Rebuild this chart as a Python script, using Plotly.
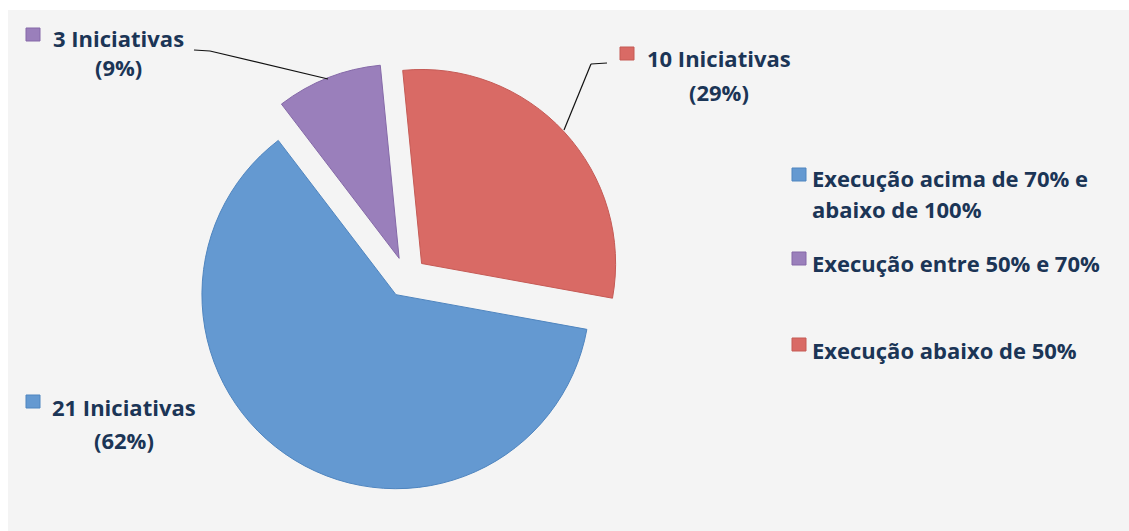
import plotly.graph_objects as go

W, H = 1129, 531

# ---- data ----
labels = ["Execução acima de 70% e abaixo de 100%", "Execução entre 50% e 70%", "Execução abaixo de 50%"]
legend_lines = [["Execução acima de 70% e", "abaixo de 100%"], ["Execução entre 50% e 70%"], ["Execução abaixo de 50%"]]
values = [21, 3, 10]
data_labels = [["21 Iniciativas", "(62%)"], ["3 Iniciativas", "(9%)"], ["10 Iniciativas", "(29%)"]]
colors = ["#6499d1", "#9a7fbb", "#d96a65"]
edge_colors = ["#4f85bf", "#8569a8", "#c55a55"]

TXT = "#1b3556"
FONT = "Open Sans"
FS = 22

def px(x):
    return x / W

def py(y):
    return 1 - y / H

fig = go.Figure()
fig.add_trace(go.Pie(
    labels=labels, values=values, sort=False, direction="clockwise", rotation=100.3,
    pull=[0.105, 0.105, 0.105],
    marker=dict(colors=colors, line=dict(color=edge_colors, width=1)),
    textinfo="none", hoverinfo="label+value+percent", showlegend=False,
    domain=dict(x=[px(192.2), px(621.0)], y=[py(491.7), py(62.9)]),
))

shapes = [dict(type="rect", xref="paper", yref="paper", x0=px(8), x1=px(W), y0=py(H), y1=py(10),
               fillcolor="#f4f4f4", line=dict(width=0), layer="below")]
annotations = []

# data labels: (marker box x0, y0, text center x, line1 y, line2 y)
lab_pos = [(26, 395, 124, 407, 440), (26, 28, 118, 38, 67), (620, 47, 719, 58, 92)]
for (mx, my, cx, y1, y2), lines, col, ec in zip(lab_pos, data_labels, colors, edge_colors):
    shapes.append(dict(type="rect", xref="paper", yref="paper", x0=px(mx), x1=px(mx + 14),
                       y0=py(my + 13), y1=py(my), fillcolor=col, line=dict(color=ec, width=1)))
    for t, yy in zip(lines, (y1, y2)):
        annotations.append(dict(text=t, x=px(cx), y=py(yy), xref="paper", yref="paper",
                                xanchor="center", yanchor="middle", showarrow=False,
                                font=dict(family=FONT, size=FS, color=TXT, weight="bold")))

# leader lines
for pts in ([(194, 50), (210, 51), (328, 79)], [(607, 63), (591, 64), (564, 130)]):
    for (xa, ya), (xb, yb) in zip(pts[:-1], pts[1:]):
        shapes.append(dict(type="line", xref="paper", yref="paper", x0=px(xa), y0=py(ya),
                           x1=px(xb), y1=py(yb), line=dict(color="#111111", width=1.2)))

# manual legend
leg_pos = [(168, [178, 209]), (252, [263]), (338, [350])]
for (my, ys), lines, col, ec in zip(leg_pos, legend_lines, colors, edge_colors):
    shapes.append(dict(type="rect", xref="paper", yref="paper", x0=px(792), x1=px(806),
                       y0=py(my + 13), y1=py(my), fillcolor=col, line=dict(color=ec, width=1)))
    for t, yy in zip(lines, ys):
        annotations.append(dict(text=t, x=px(810), y=py(yy), xref="paper", yref="paper",
                                xanchor="left", yanchor="middle", showarrow=False,
                                font=dict(family=FONT, size=FS, color=TXT, weight="bold")))

fig.update_layout(width=W, height=H, margin=dict(l=0, r=0, t=0, b=0),
                  paper_bgcolor="white", shapes=shapes, annotations=annotations,
                  showlegend=False)
fig.write_html("out.html", config={"displayModeBar": False},
               post_script="document.body.style.margin='0';document.body.style.overflow='hidden';")
